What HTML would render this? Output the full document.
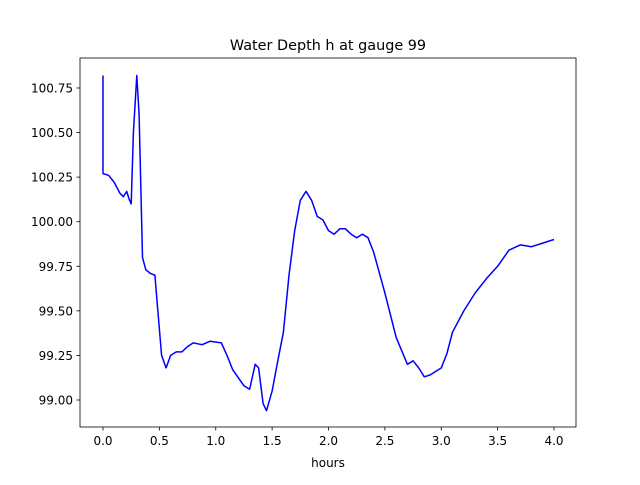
<!DOCTYPE html>
<html><head><meta charset="utf-8"><style>
body{margin:0;background:#fff;font-family:"Liberation Sans","DejaVu Sans",sans-serif;}
svg text{font-family:"DejaVu Sans","Liberation Sans",sans-serif;}
</style></head><body>
<svg id="chart" width="640" height="480" xmlns="http://www.w3.org/2000/svg">
<rect width="640" height="480" fill="#fff"/>
<text x="328" y="50" font-size="14.4" text-anchor="middle">Water Depth h at gauge 99</text>
<text x="328" y="467" font-size="12" text-anchor="middle">hours</text>
<g id="ticks"></g>
<path id="line" fill="none" stroke="#0000ff" stroke-width="1.5" stroke-linejoin="round"/>
<rect x="80" y="58" width="496" height="369" fill="none" stroke="#000" stroke-width="0.8"/>
</svg>
<script>
const times=[0,0,0.05,0.1,0.15,0.18,0.21,0.23,0.25,0.27,0.30,0.32,0.35,0.38,0.42,0.46,0.48,0.52,0.56,0.6,0.65,0.7,0.75,0.8,0.88,0.95,1.05,1.1,1.15,1.25,1.3,1.35,1.38,1.42,1.45,1.5,1.55,1.6,1.65,1.7,1.75,1.8,1.85,1.9,1.95,2.0,2.05,2.1,2.15,2.2,2.25,2.3,2.35,2.4,2.5,2.6,2.7,2.75,2.8,2.85,2.9,2.95,3.0,3.05,3.1,3.2,3.3,3.4,3.5,3.6,3.7,3.8,3.9,4.0];
const depths=[100.82,100.27,100.26,100.22,100.16,100.14,100.17,100.13,100.10,100.5,100.82,100.6,99.80,99.73,99.71,99.70,99.55,99.25,99.18,99.25,99.27,99.27,99.30,99.32,99.31,99.33,99.32,99.25,99.17,99.08,99.06,99.20,99.18,98.98,98.94,99.05,99.22,99.38,99.70,99.95,100.12,100.17,100.12,100.03,100.01,99.95,99.93,99.96,99.96,99.93,99.91,99.93,99.91,99.83,99.60,99.35,99.20,99.22,99.18,99.13,99.14,99.16,99.18,99.26,99.38,99.50,99.60,99.68,99.75,99.84,99.87,99.86,99.88,99.90];
const xTicks=[0,0.5,1,1.5,2,2.5,3,3.5,4];
const xTickLabels=["0.0","0.5","1.0","1.5","2.0","2.5","3.0","3.5","4.0"];
const yTicks=[99,99.25,99.5,99.75,100,100.25,100.5,100.75];
const yTickLabels=["99.00","99.25","99.50","99.75","100.00","100.25","100.50","100.75"];
const X=t=>103+t*112.75;
const Y=v=>400-(v-99)*178.3;
const NS="http://www.w3.org/2000/svg";
const g=document.getElementById('ticks');
function mk(tag,attrs){const e=document.createElementNS(NS,tag);for(const k in attrs)e.setAttribute(k,attrs[k]);return e;}
xTicks.forEach((t,i)=>{
 const l=mk('line',{x1:X(t),x2:X(t),y1:427,y2:430.5,stroke:'#000','stroke-width':0.8});
 
 
 g.appendChild(l);
 const tx=mk('text',{x:X(t),y:445,'font-size':12,'text-anchor':'middle'});
 
 
 tx.textContent=xTickLabels[i];g.appendChild(tx);
});
yTicks.forEach((v,i)=>{
 const l=mk('line',{x1:76.5,x2:80,y1:Y(v),y2:Y(v),stroke:'#000','stroke-width':0.8});
 
 
 g.appendChild(l);
 const tx=mk('text',{x:73,y:Y(v)+4.5,'font-size':12,'text-anchor':'end'});
 
 
 tx.textContent=yTickLabels[i];g.appendChild(tx);
});
document.getElementById('line').setAttribute('d',times.map((t,i)=>(i?'L':'M')+X(t).toFixed(1)+','+Y(depths[i]).toFixed(1)).join(' '));
</script>
</body></html>
